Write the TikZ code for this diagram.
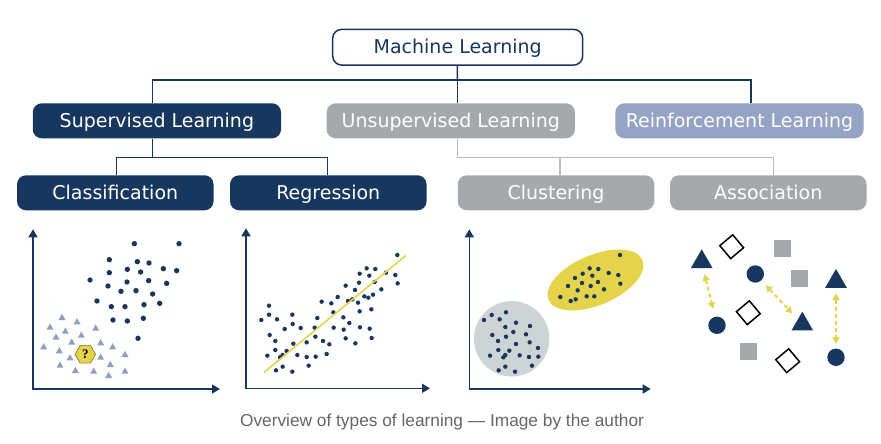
\documentclass[tikz,border=0pt]{standalone}
\usepackage{fontspec}
\setmainfont{DejaVu Sans}
\newfontfamily\capfont{Liberation Sans}
\newfontfamily\qfont{Liberation Serif}
\usetikzlibrary{arrows.meta,shapes.geometric}
\definecolor{navy}{HTML}{17375E}
\definecolor{greybox}{HTML}{A6A9AC}
\definecolor{reinf}{HTML}{95A4C4}
\definecolor{yellowc}{HTML}{E5D34B}
\definecolor{lighttri}{HTML}{8FA0BF}
\definecolor{lightcirc}{HTML}{CED3D5}
\definecolor{greyline}{HTML}{B8BCBE}
\definecolor{capgrey}{HTML}{666666}
\definecolor{hexline}{HTML}{7D7021}
\begin{document}
\begin{tikzpicture}[x=1pt,y=-1pt,
  boxbase/.style={rounded corners=9pt, inner sep=0pt, minimum height=35pt,
    text height=14pt, text depth=1.5pt, font=\fontsize{19}{22}\selectfont},
  bigbox/.style={boxbase, minimum width=248.3pt, text=white},
  smallbox/.style={boxbase, minimum width=196.5pt, text=white},
  mlbox/.style={boxbase, minimum width=250pt, minimum height=35.7pt, draw=navy, line width=1.5pt, fill=white, text=navy},
  navyl/.style={draw=navy, line width=1.5pt},
  greyl/.style={draw=greyline, line width=1.2pt},
  axis/.style={draw=navy, line width=1.6pt, {Triangle[length=8pt,width=9pt]}-{Triangle[length=8pt,width=9pt]}},
  tri/.style={regular polygon, regular polygon sides=3, minimum size=25pt, inner sep=0pt, fill=navy},
  dotc/.style={circle, minimum size=17.4pt, inner sep=0pt, fill=navy},
  sq/.style={rectangle, minimum size=16.7pt, inner sep=0pt, fill=greybox},
  dia/.style={diamond, minimum width=24.5pt, minimum height=24.5pt, inner sep=0pt, draw=black, line width=1.5pt, fill=white, rotate=-5},
  yarr/.style={draw=yellowc, line width=2pt, dash pattern=on 4pt off 3pt, {Triangle[length=6.5pt,width=7pt]}-{Triangle[length=6.5pt,width=7pt]}}
]
\useasboundingbox (0,0) rectangle (881,444);
\fill[white] (0,0) rectangle (881,444);

% ---- hierarchy ----
\node[mlbox] (ml) at (457.7,47.2) {Machine Learning};
\node[bigbox, fill=navy] (sup) at (156.9,120.8) {Supervised Learning};
\node[bigbox, fill=greybox] (uns) at (450.8,120.8) {Unsupervised Learning};
\node[bigbox, fill=reinf] (rei) at (739.5,120.8) {Reinforcement Learning};
\node[smallbox, fill=navy] (cls) at (115.3,192.8) {Classification};
\node[smallbox, fill=navy] (reg) at (328.3,192.8) {Regression};
\node[smallbox, fill=greybox] (clu) at (556,192.8) {Clustering};
\node[smallbox, fill=greybox] (aso) at (768.3,192.8) {Association};

\coordinate (j0) at (457.3,80);
\draw[navyl] (ml) -- (j0);
\draw[navyl] ([xshift=-4.6pt]sup.north) |- (j0) -| ([xshift=11.5pt]rei.north);
\draw[navyl] (j0) -- ([xshift=6.5pt]uns.north);
\draw[navyl] ([xshift=-4.6pt]sup.south) -- ++(0,19) coordinate (j1);
\draw[navyl] ([xshift=1.4pt]cls.north) |- (j1) -| ([xshift=-0.6pt]reg.north);
\draw[greyl] ([xshift=6.5pt]uns.south) -- ++(0,19) coordinate (j2);
\draw[greyl] (j2) -| ([xshift=5pt]aso.north);
\draw[greyl] ([xshift=4pt]clu.north) -- ([xshift=4pt]clu.north |- j2);

% ---- classification plot ----
\draw[axis] (33,229.3) -- (33,389) -- (220,389);
\foreach \x/\y in {403/71,537/71,328/119,412/125,447/129,490/146,530/152,328/158,382/148,422/156,270/180,381/186,446/182,500/190,324/198,363/214,408/212,458/222,291/243,334/260,375/260,432/254,479/250,339/300,382/303,430/295,414/355}
  \fill[navy] ({\x/3},{220+\y/3}) circle[radius=2.7];
\foreach \x/\y in {186/292,231/305,150/321,196/333,287/324,168/351,244/345,215/366,131/380,178/392,302/368,338/380,210/413,302/411,375/403,180/435,331/433,226/451,281/453,326/466,375/453}
  \fill[lighttri] ({\x/3-3.5},{220+\y/3+2.7}) -- ++(7,0) -- ++(-3.5,-6.2) -- cycle;
\node[regular polygon, regular polygon sides=6, minimum size=20.5pt, inner sep=0pt, fill=yellowc, draw=hexline, line width=0.6pt, font=\qfont\bfseries\fontsize{13}{13}\selectfont] (hex) at (85.3,354.3) {?};

% ---- regression plot ----
\draw[axis] (246,228.3) -- (246,388.3) -- (430,388.3);
\foreach \x/\y in {502/105,410/145,436/147,389/161,418/167,468/158,496/165,387/188,434/186,503/190,347/197,375/210,454/208,323/231,275/245,304/250,354/243,367/238,384/248,403/229,415/233,429/224,117/257,117/284,94/300,141/298,187/284,188/312,164/327,212/324,262/294,310/277,340/292,358/309,389/274,424/268,119/345,136/363,254/323,256/350,311/323,341/329,390/322,419/326,425/354,347/355,376/370,230/367,279/363,298/373,190/371,136/390,170/393,158/405,150/412,112/407,202/405,230/411,257/410,290/402,236/437,158/440,138/451,187/455}
  \fill[navy] ({230+\x/3},{220+\y/3}) circle[radius=2.2];
\draw[yellowc, line width=1.6pt] ({230+102/3},{220+457/3}) -- ({230+527/3},{220+107/3});

% ---- clustering plot ----
\draw[axis] (469.3,229.3) -- (469.3,389) -- (650.7,389);
\fill[lightcirc] (511.7,338.8) circle[radius=37.7];
\fill[yellowc, rotate around={23:(595.5,280)}] (595.5,280) ellipse[x radius=51, y radius=25];
\foreach \x/\y in {510/105,419/145,445/147,398/161,427/167,476/159,505/165,375/174,354/198,396/189,444/186,422/198,511/191,383/211,462/208,331/231,362/243,377/238,410/229,433/229,102/300,125/285,149/298,168/277,198/308,166/321,240/318,127/345,190/336,144/363,168/350,228/343,198/372,239/367,264/384,145/390,178/392,166/405,160/412,120/407,209/406,237/411,265/410,246/437,166/440,146/451,195/455}
  \fill[navy] ({450+\x/3},{220+\y/3}) circle[radius=2.2];

% ---- association plot ----
\node[tri] (t1) at (701.7,261.8) {};
\node[tri] (t2) at (836,281.5) {};
\node[tri] (t3) at (802.3,324.2) {};
\node[dotc] (c1) at (755.3,274) {};
\node[dotc] (c2) at (717,325.3) {};
\node[dotc] (c3) at (836,357.3) {};
\node[sq] (s1) at (782.7,248.7) {};
\node[sq] (s2) at (799.7,278.7) {};
\node[sq] (s3) at (748.3,351.3) {};
\node[dia] (d1) at (731.7,246.7) {};
\node[dia] (d2) at (748.3,312.7) {};
\node[dia] (d3) at (787.7,360.7) {};
\draw[yarr, shorten <=6pt, shorten >=8pt] (t1) -- (c2);
\draw[yarr, shorten <=6.5pt, shorten >=8pt] (c1) -- (t3);
\draw[yarr, shorten <=5.5pt, shorten >=4.6pt] (t2) -- (c3);

% ---- caption ----
\node[font=\capfont\fontsize{17.3}{20}\selectfont, text=capgrey, anchor=base, inner sep=0pt] (cap) at (442,426) {Overview of types of learning — Image by the author};
\end{tikzpicture}
\end{document}
